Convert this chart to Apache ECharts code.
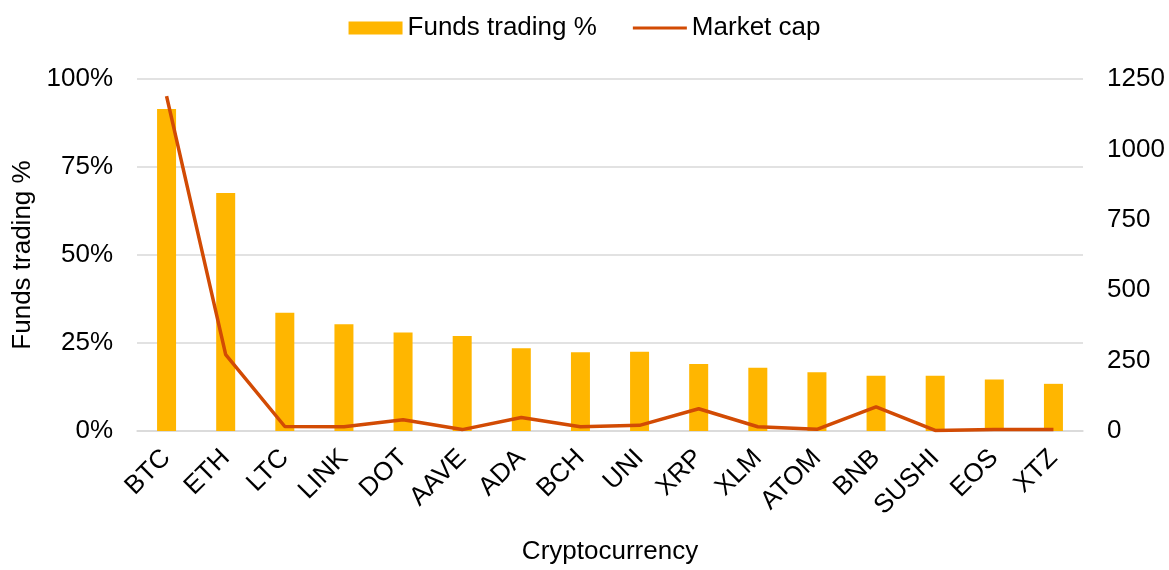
<!DOCTYPE html>
<html>
<head>
<meta charset="utf-8">
<style>
  html, body { margin: 0; padding: 0; background: #fff; }
  #chart { width: 1169px; height: 570px; }
</style>
</head>
<body>
<div id="chart"></div>
<script src="https://cdn.jsdelivr.net/npm/echarts@6/dist/echarts.min.js"></script>
<script>
    var coins = ['BTC', 'ETH', 'LTC', 'LINK', 'DOT', 'AAVE', 'ADA', 'BCH', 'UNI', 'XRP', 'XLM', 'ATOM', 'BNB', 'SUSHI', 'EOS', 'XTZ'];
    // share of funds trading each coin, %
    var fundsPct = [91.5, 67.6, 33.6, 30.3, 28.0, 27.0, 23.5, 22.4, 22.5, 19.0, 18.0, 16.7, 15.7, 15.7, 14.6, 13.4];
    // market cap (right axis)
    var marketCap = [1189, 271, 16, 15, 40, 5, 48, 15, 20, 79, 15, 6, 86, 2, 5, 5];

    var font = 'Liberation Sans, Arial, sans-serif';
    var fs = 26;
    var myChart = echarts.init(document.getElementById('chart'));
    var option = {
        animation: false,
        textStyle: { fontFamily: font },
        legend: {
            top: 10,
            left: 'center',
            itemWidth: 54,
            itemHeight: 13,
            itemGap: 36,
            textStyle: { fontSize: fs, color: '#000', fontFamily: font },
            data: [
                { name: 'Funds trading %', icon: 'rect' },
                { name: 'Market cap', icon: 'path://M0,0h18v1h-18z' }
            ]
        },
        grid: {
            left: 137,
            right: 86,
            top: 79,
            bottom: 134
        },
        xAxis: {
            type: 'category',
            data: coins,
            name: 'Cryptocurrency',
            nameLocation: 'middle',
            nameGap: 108,
            nameTextStyle: { fontSize: fs, color: '#000', fontFamily: font },
            axisLine: { lineStyle: { color: '#d9d9d9', width: 1.5 } },
            axisTick: { show: false },
            axisLabel: {
                rotate: 45,
                margin: 23,
                fontSize: fs,
                color: '#000',
                fontFamily: font
            }
        },
        yAxis: [
            {
                type: 'value',
                min: 0,
                max: 100,
                interval: 25,
                name: 'Funds trading %',
                nameLocation: 'middle',
                nameGap: 98,
                nameTextStyle: { fontSize: fs, color: '#000', fontFamily: font },
                axisLine: { show: false },
                axisTick: { show: false },
                splitLine: { lineStyle: { color: '#d9d9d9', width: 1.5 } },
                axisLabel: {
                    formatter: '{value}%',
                    margin: 24,
                    fontSize: fs,
                    color: '#000',
                    fontFamily: font
                }
            },
            {
                type: 'value',
                min: 0,
                max: 1250,
                interval: 250,
                axisLine: { show: false },
                axisTick: { show: false },
                splitLine: { show: false },
                axisLabel: {
                    formatter: function (v) { return String(v); },
                    margin: 24,
                    fontSize: fs,
                    color: '#000',
                    fontFamily: font
                }
            }
        ],
        series: [
            {
                name: 'Funds trading %',
                type: 'bar',
                yAxisIndex: 0,
                barWidth: 19,
                itemStyle: { color: '#FFB600' },
                data: fundsPct
            },
            {
                name: 'Market cap',
                type: 'line',
                yAxisIndex: 1,
                symbol: 'none',
                lineStyle: { color: '#D24B04', width: 3.5 },
                itemStyle: { color: '#D24B04' },
                data: marketCap
            }
        ]
    };
    myChart.setOption(option);
</script>
</body>
</html>
